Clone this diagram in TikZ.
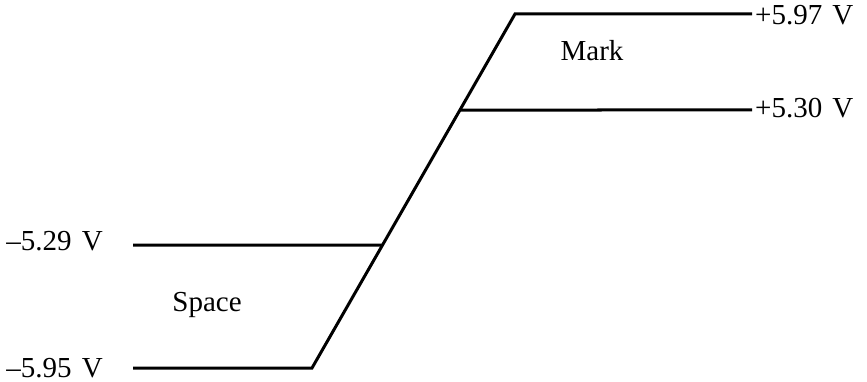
\documentclass[tikz,border=0pt]{standalone}
\usepackage{fontspec}
\setmainfont{Liberation Serif}
\usetikzlibrary{calc}
\begin{document}
\begin{tikzpicture}[x=1pt,y=-1pt,
  level/.style={line width=3pt},
  lbl/.style={inner sep=0pt,font=\fontsize{29}{34}\selectfont}]
\useasboundingbox (0,0) rectangle (867,382);
% corners
\coordinate (b0) at (133,368);
\coordinate (b1) at (312,368);
\coordinate (t1) at (515,14);
\coordinate (t2) at (752,14);
\coordinate (m0) at (133,245);
\coordinate (m1) at ($(b1)!{123/354}!(t1)$);
\coordinate (u1) at ($(b1)!{258/354}!(t1)$);
\coordinate (u2) at (752,110);
\draw[level,line join=miter] (b0) -- (b1) -- (t1) -- (t2);
\draw[level] (m0) -- (m1);
\draw[level] (u1) -- (u2);
% labels
\node[lbl,anchor=base west] (lt) at (755,25) {+5.97\hspace{0.35em}V};
\node[lbl,anchor=base west] (lu) at (755,118) {+5.30\hspace{0.35em}V};
\node[lbl,anchor=base east] (lm) at (103,251) {–5.29\hspace{0.35em}V};
\node[lbl,anchor=base east] (lb) at (103,377) {–5.95\hspace{0.35em}V};
\node[lbl] (mark) at (592,51) {Mark};
\node[lbl] (space) at (207,305) {Space};
\end{tikzpicture}
\end{document}
